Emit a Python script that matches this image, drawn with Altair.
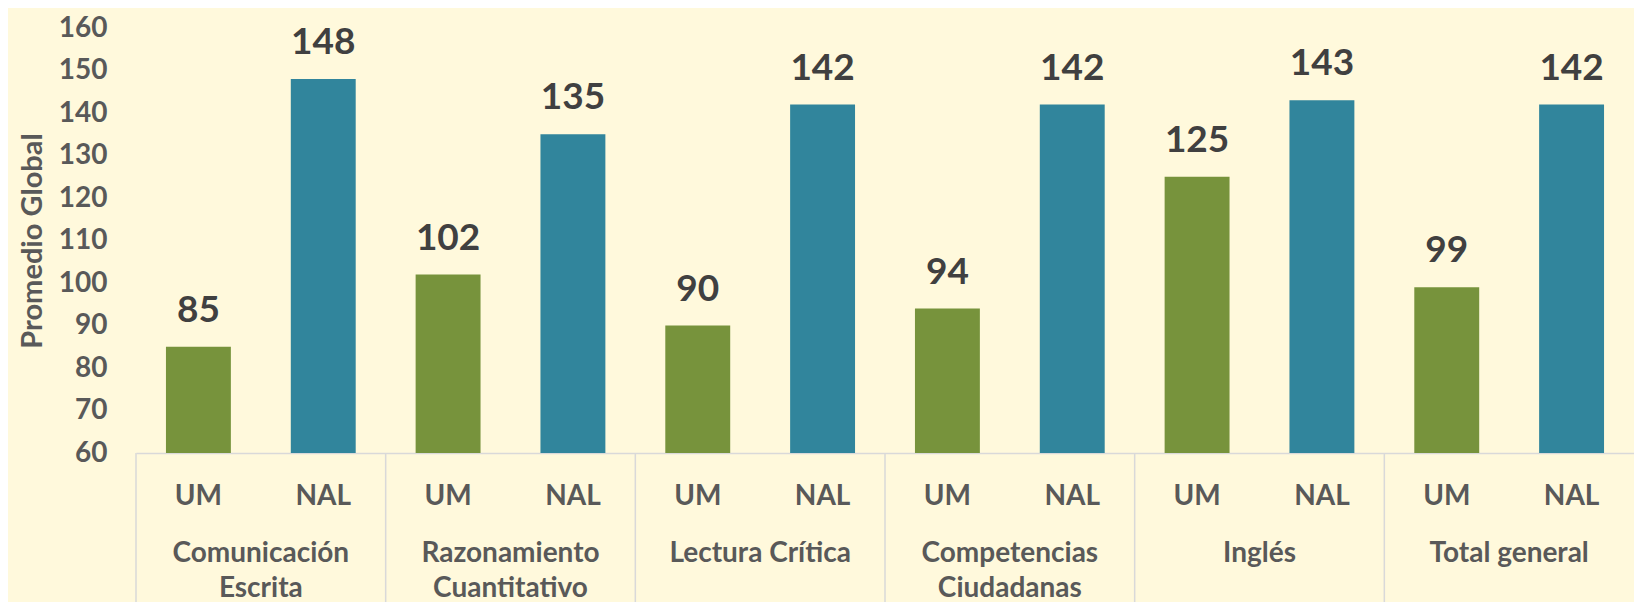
import altair as alt
import pandas as pd

categorias = ["Comunicación\nEscrita", "Razonamiento\nCuantitativo", "Lectura Crítica",
              "Competencias\nCiudadanas", "Inglés", "Total general"]
series = ["UM", "NAL"]
valores_um = [85, 102, 90, 94, 125, 99]
valores_nal = [148, 135, 142, 142, 143, 142]
ticks_y = [60, 70, 80, 90, 100, 110, 120, 130, 140, 150, 160]

rows = []
for c, u, n in zip(categorias, valores_um, valores_nal):
    rows.append({"cat": c, "serie": "UM", "valor": u})
    rows.append({"cat": c, "serie": "NAL", "valor": n})
df = pd.DataFrame(rows)
df_cat = pd.DataFrame({"cat": categorias})

W, H = 1498, 425
FONT = "Lato"
GRAY = "#595959"

x_enc = alt.X("cat:N", sort=categorias,
              scale=alt.Scale(paddingInner=0, paddingOuter=0),
              axis=alt.Axis(labels=False, ticks=False, title=None, grid=False,
                            domainColor="#d9d9d9", domainWidth=1.5))
xo_enc = alt.XOffset("serie:N", sort=series,
                     scale=alt.Scale(paddingInner=0.48, paddingOuter=0.24))
y_scale = alt.Scale(domain=[60, 160], nice=False, zero=False)

bars = alt.Chart(df).mark_bar().encode(
    x=x_enc,
    xOffset=xo_enc,
    y=alt.Y("valor:Q", scale=y_scale,
            axis=alt.Axis(values=ticks_y, domain=False, ticks=False, tickSize=0, grid=False,
                          labelFont=FONT, labelFontSize=28, labelFontWeight="bold",
                          labelColor=GRAY, labelPadding=29,
                          title="Promedio Global", titleFont=FONT, titleFontSize=29,
                          titleFontWeight="bold", titleColor=GRAY, titleAngle=270,
                          titleX=-104, titleY=H / 2, titleAlign="center",
                          titleBaseline="middle")),
    y2=alt.Y2(datum=60),
    color=alt.Color("serie:N", sort=series,
                    scale=alt.Scale(domain=series, range=["#77933C", "#31859C"]),
                    legend=None),
)

bar_labels = alt.Chart(df).mark_text(
    font=FONT, fontSize=37, fontWeight="bold", color="#404040",
    baseline="middle", dy=-36
).encode(x=x_enc, xOffset=xo_enc, y=alt.Y("valor:Q", scale=y_scale), text="valor:Q")

sub_labels = alt.Chart(df).mark_text(
    font=FONT, fontSize=28, fontWeight="bold", color=GRAY, baseline="alphabetic"
).encode(x=x_enc, xOffset=xo_enc, y=alt.value(H + 52), text="serie:N")

cat_labels = alt.Chart(df_cat).mark_text(
    font=FONT, fontSize=28, fontWeight="bold", color=GRAY, baseline="alphabetic",
    lineBreak="\n", lineHeight=35
).encode(x=alt.X("cat:N", sort=categorias), y=alt.value(H + 109), text="cat:N")

dividers = alt.Chart(df_cat).mark_rule(color="#d9d9d9", strokeWidth=1.5).encode(
    x=alt.X("cat:N", sort=categorias, bandPosition=0),
    y=alt.value(H), y2=alt.value(H + 200)
)

chart = alt.layer(bars, bar_labels, sub_labels, cat_labels, dividers).properties(
    width=W, height=H,
    padding={"left": 128, "top": 20, "right": 0, "bottom": 149},
    autosize=alt.AutoSizeParams(type="none"),
    background="#FFF9DC",
).configure_view(stroke=None)

chart.save("out.html", embed_options={"renderer": "svg", "actions": False})
